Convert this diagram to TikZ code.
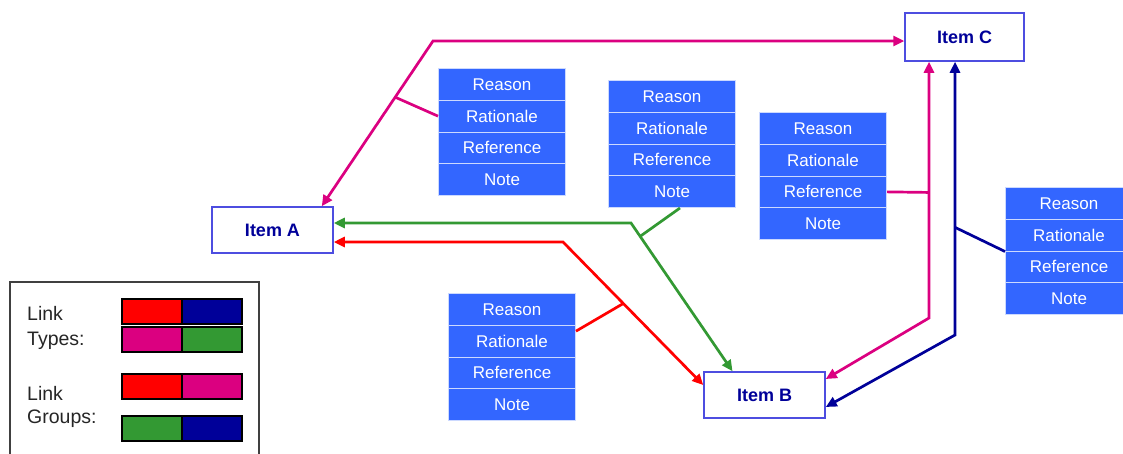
\documentclass[tikz,border=0pt]{standalone}
\usepackage{fontspec}
\setmainfont{Liberation Sans}
\usetikzlibrary{arrows.meta}
\definecolor{boxblue}{HTML}{3366FF}
\definecolor{itemborder}{HTML}{4D4DE0}
\definecolor{itemtext}{HTML}{000099}
\definecolor{pinkc}{HTML}{DB0080}
\definecolor{greenc}{HTML}{339933}
\definecolor{navyc}{HTML}{000099}
\definecolor{redc}{HTML}{FF0000}
\tikzset{
 item/.style={draw=itemborder, line width=1.5pt, fill=white, minimum width=121pt, minimum height=46pt, inner sep=0pt, font=\fontsize{18}{21}\selectfont\bfseries, text=itemtext},
 attr/.style={fill=boxblue, draw=white!75!boxblue, line width=1pt, minimum width=127pt, minimum height=31.75pt, inner sep=0pt, anchor=north west, text=white, font=\fontsize{17}{20}\selectfont},
 link/.style={line width=2.7pt, {Triangle[length=11pt,width=10pt]}-{Triangle[length=11pt,width=10pt]}},
 branch/.style={line width=2.7pt},
 swatch/.style={draw=black, line width=1.5pt, minimum width=60pt, minimum height=25pt, inner sep=0pt, anchor=north west},
 legtext/.style={anchor=base west, inner sep=0pt, font=\fontsize{19.5}{22}\selectfont, text=black!85},
 legendbox/.style={draw=black!75, line width=1.5pt}
}
\newcommand\attrstack[3]{%
 \node[attr] (#1a) at (#2,#3) {Reason};
 \node[attr] (#1b) at (#2,#3+31.75) {Rationale};
 \node[attr] (#1c) at (#2,#3+63.5) {Reference};
 \node[attr] (#1d) at (#2,#3+95.25) {Note};
}
\begin{document}
\begin{tikzpicture}[x=1pt,y=-1pt]
\clip (0,0) rectangle (1123,453);
\fill[white] (0,0) rectangle (1123,453);

% items
\node[item] (A) at (272.5,230) {Item A};
\node[item] (B) at (764.5,395) {Item B};
\node[item, minimum width=119pt, minimum height=48pt] (C) at (964.5,37) {Item C};

% attribute stacks
\attrstack{sa}{438}{68}
\attrstack{sb}{608}{80}
\attrstack{sc}{759}{112}
\attrstack{sd}{1005}{187}
\attrstack{se}{448}{293}

% magenta A-C
\coordinate (m1) at (433,41);
\draw[link, pinkc] ([xshift=-12pt]A.north east) -- (m1) -- (C.west |- m1);
\path ([xshift=-12pt]A.north east) -- (m1) coordinate[pos=0.66] (mb);
\draw[branch, pinkc] (sab.west) -- (mb);

% green A-B
\coordinate (g1) at (631,223);
\draw[link, greenc] (A.east |- g1) -- (g1) -- ([xshift=-32pt]B.north);
\path (g1) -- ([xshift=-32pt]B.north) coordinate[pos=0.09] (gb);
\draw[branch, greenc] ([xshift=8pt]sbd.south) -- (gb);

% red A-B
\coordinate (r1) at (563,242);
\draw[link, redc] (A.east |- r1) -- (r1) -- ([yshift=10pt]B.west);
\path (r1) -- ([yshift=10pt]B.west) coordinate[pos=0.43] (rb);
\draw[branch, redc] ([yshift=10pt]seb.east) -- (rb);

% magenta B-C
\coordinate (p1) at (929,318);
\draw[link, pinkc] (C.south -| p1) -- (p1) -- ([yshift=16pt]B.east);
\path (C.south -| p1) -- (p1) coordinate[pos=0.51] (pb);
\draw[branch, pinkc] (scc.east) -- (pb);

% navy B-C
\coordinate (n1) at (955,335);
\draw[link, navyc] (C.south -| n1) -- (n1) -- ([yshift=-12pt]B.east);
\path (C.south -| n1) -- (n1) coordinate[pos=0.606] (nb);
\draw[branch, navyc] (sdb.south west) -- (nb);

% legend
\draw[legendbox] (10,282) rectangle (259,475);
\node[legtext] (l1) at (27,320) {Link};
\node[legtext] (l2) at (27,345) {Types:};
\node[legtext] (l3) at (27,400) {Link};
\node[legtext] (l4) at (27,423) {Groups:};
\node[swatch, fill=redc] (t1) at (121,298) {};
\node[swatch, fill=navyc] (t2) at (181,298) {};
\node[swatch, fill=pinkc] (t3) at (121,326) {};
\node[swatch, fill=greenc] (t4) at (181,326) {};
\node[swatch, fill=redc] (u1) at (121,373) {};
\node[swatch, fill=pinkc] (u2) at (181,373) {};
\node[swatch, fill=greenc] (u3) at (121,415) {};
\node[swatch, fill=navyc] (u4) at (181,415) {};
\end{tikzpicture}
\end{document}
